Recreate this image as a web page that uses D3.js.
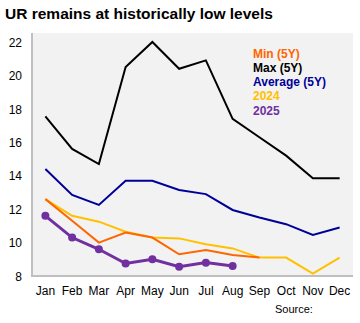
<!DOCTYPE html>
<html><head><meta charset="utf-8">
<script src="https://cdn.jsdelivr.net/npm/d3@7"></script>
<style>body{margin:0;background:#fff;}svg{display:block;font-family:"Liberation Sans",Arial,sans-serif;}</style>
</head><body><svg id="c" width="360" height="323"></svg>
<script>
const months = ["Jan","Feb","Mar","Apr","May","Jun","Jul","Aug","Sep","Oct","Nov","Dec"];
const yTicks = [8,10,12,14,16,18,20,22];
const minVals = [12.6,11.3,10.0,10.6,10.3,9.3,9.55,9.25,9.1];
const maxVals = [17.55,15.6,14.7,20.5,22.0,20.4,20.9,17.4,16.3,15.2,13.85,13.85];
const avgVals = [14.4,12.85,12.25,13.7,13.7,13.15,12.9,11.95,11.5,11.1,10.45,10.9];
const y2024 = [12.6,11.6,11.25,10.65,10.3,10.25,9.9,9.65,9.1,9.1,8.15,9.1];
const y2025 = [11.6,10.3,9.6,8.75,9.0,8.55,8.8,8.6];
const legendLabels = ["Min (5Y)","Max (5Y)","Average (5Y)","2024","2025"];

const colors = {min:"#ff6600", max:"#000000", avg:"#000099", y24:"#ffc000", y25:"#7030a0"};
const svg = d3.select("#c");
const L=32, R=353, T=33, B=276;
const x = d3.scaleBand().domain(months).range([L,R]);
const y = d3.scaleLinear().domain([8,22]).range([B,42]);

svg.append("text").attr("x",5).attr("y",19).attr("font-size",15.5).attr("font-weight","bold").attr("fill","#000").text("UR remains at historically low levels");

svg.append("rect").attr("x",L).attr("y",T).attr("width",R-L).attr("height",B-T).attr("fill","#f2f2f2");

// axes lines
svg.append("line").attr("x1",L).attr("x2",L).attr("y1",T).attr("y2",B+1).attr("stroke","#bfbfbf").attr("stroke-width",2);
svg.append("line").attr("x1",L-1).attr("x2",R).attr("y1",B).attr("y2",B).attr("stroke","#bfbfbf").attr("stroke-width",2);

const yAxis = d3.axisLeft(y).tickValues(yTicks).tickSize(0).tickPadding(0);
const gy = svg.append("g").attr("transform",`translate(${22},0)`).call(yAxis);
gy.select(".domain").remove();
gy.selectAll("text").attr("font-size",12).attr("font-family","Liberation Sans, Arial, sans-serif").attr("fill","#000").attr("dy","0.35em");

const xAxis = d3.axisBottom(x).tickSize(0).tickPadding(0);
const gx = svg.append("g").attr("transform",`translate(0,${286})`).call(xAxis);
gx.select(".domain").remove();
gx.selectAll("text").attr("font-size",12).attr("font-family","Liberation Sans, Arial, sans-serif").attr("fill","#000").attr("dy","0.71em");

const line = d3.line().x((d,i)=>x(months[i])+x.bandwidth()/2).y(d=>y(d));
function draw(vals,col,w){
  svg.append("path").datum(vals).attr("d",line).attr("fill","none").attr("stroke",col).attr("stroke-width",w).attr("stroke-linejoin","miter");
}
draw(maxVals,colors.max,2);
draw(avgVals,colors.avg,2);
draw(y2024,colors.y24,2);
draw(minVals,colors.min,2);
draw(y2025,colors.y25,3);
svg.selectAll("circle.p").data(y2025).enter().append("circle")
  .attr("cx",(d,i)=>x(months[i])+x.bandwidth()/2).attr("cy",d=>y(d)).attr("r",4).attr("fill",colors.y25);

const legCols=[colors.min,colors.max,colors.avg,colors.y24,colors.y25];
svg.selectAll("text.leg").data(legendLabels).enter().append("text")
  .attr("x",253).attr("y",(d,i)=>53.5+i*14.2).attr("dy","0.35em")
  .attr("font-size",12).attr("font-weight","bold").attr("fill",(d,i)=>legCols[i]).text(d=>d);

svg.append("text").attr("x",275).attr("y",309).attr("dy","0.35em").attr("font-size",11).attr("fill","#000").text("Source:");
</script></body></html>
